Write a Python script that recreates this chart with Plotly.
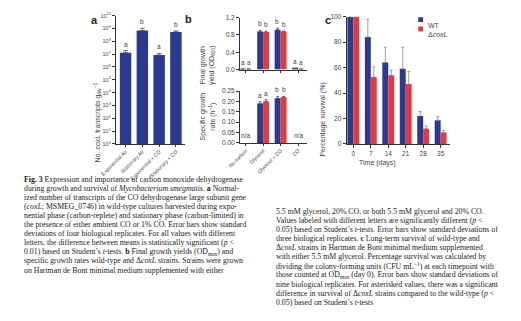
import plotly.graph_objects as go
import math

W, H = 521, 321
BLUE = "#2b3a8c"
RED = "#e03a42"
ERRC = "#555555"
SANS = "Liberation Sans, Arial, sans-serif"
SERIF = "Liberation Serif, Times New Roman, serif"

# ---------------- data ----------------
a_categories = ["Exponential Air", "Stationary Air", "Exponential + CO", "Stationary + CO"]
a_values = [1.3e7, 7.0e8, 8.5e6, 5.5e8]
a_errors = [0.6e7, 3.5e8, 3.0e6, 1.0e8]
a_letters = ["a", "b", "a", "b"]
a_ticks_exp = list(range(0, 11))

b_categories = ["No carbon", "Glycerol", "Glycerol + CO", "CO"]
b_yield_wt = [0.01, 0.88, 0.92, 0.02]
b_yield_wt_err = [0.004, 0.03, 0.04, 0.01]
b_yield_ko = [0.01, 0.87, 0.88, 0.01]
b_yield_ko_err = [0.004, 0.02, 0.01, 0.004]
b_yield_letters = ["a", "b", "b", "a"]
b_rate_wt = [None, 0.19, 0.215, None]
b_rate_wt_err = [0, 0.008, 0.009, 0]
b_rate_ko = [None, 0.20, 0.22, None]
b_rate_ko_err = [0, 0.008, 0.004, 0]
b_rate_letters = ["n/a", "a", "b", "n/a"]

c_days = ["0", "7", "14", "21", "28", "35"]
c_wt = [100, 84, 64, 59, 22, 18.5]
c_wt_err = [0, 14, 12, 17, 3.5, 3]
c_ko = [100, 52.5, 54, 47, 12, 9]
c_ko_err = [0, 8, 4, 10, 2, 1.5]
c_sig = ["", "*", "", "", "*", "*"]

caption_left = [
    "<b>Fig. 3</b> Expression and importance of carbon monoxide dehydrogenase",
    "during growth and survival of <i>Mycobacterium smegmatis</i>. <b>a</b> Normal-",
    "ized number of transcripts of the CO dehydrogenase large subunit gene",
    "(<i>coxL</i>; MSMEG_0746) in wild-type cultures harvested during expo-",
    "nential phase (carbon-replete) and stationary phase (carbon-limited) in",
    "the presence of either ambient CO or 1% CO. Error bars show standard",
    "deviations of four biological replicates. For all values with different",
    "letters, the difference between means is statistically significant (<i>p</i> &lt;",
    "0.01) based on Student’s <i>t</i>-tests. <b>b</b> Final growth yields (OD<sub>max</sub>) and",
    "specific growth rates wild-type and Δ<i>coxL</i> strains. Strains were grown",
    "on Hartman de Bont minimal medium supplemented with either",
]
caption_right = [
    "5.5 mM glycerol, 20% CO, or both 5.5 mM glycerol and 20% CO.",
    "Values labeled with different letters are significantly different (<i>p</i> &lt;",
    "0.05) based on Student’s <i>t</i>-tests. Error bars show standard deviations of",
    "three biological replicates. <b>c</b> Long-term survival of wild-type and",
    "Δ<i>coxL</i> strains in Hartman de Bont minimal medium supplemented",
    "with either 5.5 mM glycerol. Percentage survival was calculated by",
    "dividing the colony-forming units (CFU mL<sup>−1</sup>) at each timepoint with",
    "those counted at OD<sub>max</sub> (day 0). Error bars show standard deviations of",
    "nine biological replicates. For asterisked values, there was a significant",
    "difference in survival of Δ<i>coxL</i> strains compared to the wild-type (<i>p</i> &lt;",
    "0.05) based on Student’s <i>t</i>-tests",
]


def xd(a, b):
    return [a / W, b / W]


def yd(top, bottom):
    return [1 - bottom / H, 1 - top / H]


def px(x):
    return x / W


def py(y):
    return 1 - y / H


def err(arr, width=0.8, color=ERRC, thick=2.5):
    return dict(type="data", array=arr, arrayminus=[0] * len(arr), symmetric=False,
                color=color, thickness=width, width=thick, visible=True)


fig = go.Figure()

# Panel a
fig.add_trace(go.Bar(x=a_categories, y=a_values, marker=dict(color=BLUE, line=dict(width=0)),
                     error_y=err(a_errors), xaxis="x", yaxis="y", showlegend=False))
# Panel b top
fig.add_trace(go.Bar(x=b_categories, y=b_yield_wt, marker=dict(color=BLUE, line=dict(width=0)),
                     error_y=err(b_yield_wt_err, thick=1.5), xaxis="x2", yaxis="y2", showlegend=False))
fig.add_trace(go.Bar(x=b_categories, y=b_yield_ko, marker=dict(color=RED, line=dict(width=0)),
                     error_y=err(b_yield_ko_err, thick=1.5), xaxis="x2", yaxis="y2", showlegend=False))
# Panel b bottom
fig.add_trace(go.Bar(x=b_categories, y=b_rate_wt, marker=dict(color=BLUE, line=dict(width=0)),
                     error_y=err(b_rate_wt_err, thick=1.5), xaxis="x3", yaxis="y3", showlegend=False))
fig.add_trace(go.Bar(x=b_categories, y=b_rate_ko, marker=dict(color=RED, line=dict(width=0)),
                     error_y=err(b_rate_ko_err, thick=1.5), xaxis="x3", yaxis="y3", showlegend=False))
# Panel c
fig.add_trace(go.Bar(x=c_days, y=c_wt, name="WT", marker=dict(color=BLUE, line=dict(width=0)),
                     error_y=err(c_wt_err, color="#8a8a8a", thick=1.5), xaxis="x4", yaxis="y4"))
fig.add_trace(go.Bar(x=c_days, y=c_ko, name="ΔcoxL", marker=dict(color=RED, line=dict(width=0)),
                     error_y=err(c_ko_err, color="#8a8a8a", thick=1.5), xaxis="x4", yaxis="y4"))

axis_common = dict(showline=True, linecolor="#333", linewidth=0.8, ticks="outside", ticklen=3,
                   tickwidth=0.8, tickcolor="#333", showgrid=False, zeroline=False,
                   tickfont=dict(family=SANS, size=6.5, color="#444"))
rot_font = dict(family=SANS, size=5.1, color="#444")

fig.update_layout(
    width=W, height=H, margin=dict(l=0, r=0, t=0, b=0),
    paper_bgcolor="white", plot_bgcolor="white", showlegend=False,
    barmode="group", bargap=0.32, bargroupgap=0,
    font=dict(family=SANS, color="#333"),
    xaxis=dict(axis_common, domain=xd(103, 174), anchor="y", type="category",
               range=[-0.58, 3.52], tickangle=-45, tickfont=rot_font, ticklen=2),
    yaxis=dict(axis_common, domain=yd(12, 143), anchor="x", type="log", range=[0, 10],
               tickvals=[10 ** e for e in a_ticks_exp],
               ticktext=["10<sup>%d</sup>" % e for e in a_ticks_exp],
               tickfont=dict(family=SANS, size=5.5, color="#444")),
    xaxis2=dict(axis_common, domain=xd(231, 300), anchor="y2", type="category",
                range=[-0.33, 3.5], showticklabels=False),
    yaxis2=dict(axis_common, domain=yd(14, 67), anchor="x2", range=[0, 1.2],
                tickvals=[0, 0.4, 0.8, 1.2], ticktext=["0.0", "0.4", "0.8", "1.2"]),
    xaxis3=dict(axis_common, domain=xd(231, 300), anchor="y3", type="category",
                range=[-0.33, 3.5], tickangle=-45, tickfont=rot_font, ticklen=2),
    yaxis3=dict(axis_common, domain=yd(89, 142), anchor="x3", range=[0, 0.25],
                dtick=0.05, tickformat=".2f"),
    xaxis4=dict(axis_common, domain=xd(341, 448), anchor="y4", type="category",
                range=[-0.39, 5.55]),
    yaxis4=dict(axis_common, domain=yd(13, 143), anchor="x4", range=[0, 100], dtick=20),
)

ann = []
lf = dict(family=SANS, size=6.5, color="#444")
# panel letters
for t, x, y in [("a", 75, 8), ("b", 178, 7), ("c", 322, 8)]:
    ann.append(dict(text="<b>%s</b>" % t, x=px(x), y=py(y), xref="paper", yref="paper",
                    showarrow=False, font=dict(family=SANS, size=11, color="#222")))
# y titles
for t, x, y in [("No. <i>coxL</i> transcripts g<sub>dw</sub><sup>−1</sup>", 77, 78),
                ("Final growth<br>yield (OD<sub>600</sub>)", 198, 40),
                ("Specific growth<br>rate (h<sup>−1</sup>)", 198, 115),
                ("Percentage survival (%)", 317, 78)]:
    ann.append(dict(text=t, x=px(x), y=py(y), xref="paper", yref="paper", showarrow=False,
                    textangle=-90, font=dict(family=SANS, size=7, color="#444")))
ann.append(dict(text="Time (days)", x=px(394), y=py(163), xref="paper", yref="paper",
                showarrow=False, font=dict(family=SANS, size=7, color="#444")))

# letters panel a
for c, v, e, l in zip(a_categories, a_values, a_errors, a_letters):
    ann.append(dict(text=l, x=c, y=math.log10(v + e), xref="x", yref="y", yanchor="bottom",
                    yshift=1, showarrow=False, font=lf))
# letters panel b
for c, v1, e1, v2, e2, l in zip(b_categories, b_yield_wt, b_yield_wt_err, b_yield_ko,
                                b_yield_ko_err, b_yield_letters):
    for v, e, s in [(v1, e1, -3.1), (v2, e2, 3.1)]:
        ann.append(dict(text=l, x=c, y=v + e, xref="x2", yref="y2", yanchor="bottom",
                        xshift=s, yshift=1, showarrow=False, font=lf))
for c, v1, e1, v2, e2, l in zip(b_categories, b_rate_wt, b_rate_wt_err, b_rate_ko,
                                b_rate_ko_err, b_rate_letters):
    if v1 is None:
        ann.append(dict(text=l, x=c, y=0, xref="x3", yref="y3", yanchor="bottom",
                        yshift=2, showarrow=False, font=lf))
    else:
        for v, e, s in [(v1, e1, -3.1), (v2, e2, 3.1)]:
            ann.append(dict(text=l, x=c, y=v + e, xref="x3", yref="y3", yanchor="bottom",
                            xshift=s, yshift=1, showarrow=False, font=lf))
# asterisks panel c
for d, v, e, s in zip(c_days, c_ko, c_ko_err, c_sig):
    if s:
        ann.append(dict(text=s, x=d, y=v + e, xref="x4", yref="y4", yanchor="bottom",
                        xshift=3.1, yshift=0, showarrow=False, font=lf))

# legend for panel c
shapes = []
for i, (name, col) in enumerate([("WT", BLUE), ("Δ<i>coxL</i>", RED)]):
    yc = 16 + 9.5 * i
    shapes.append(dict(type="rect", xref="paper", yref="paper", x0=px(415), x1=px(420),
                       y0=py(yc + 2.5), y1=py(yc - 2.5), fillcolor=col, line=dict(width=0)))
    ann.append(dict(text=name, x=px(422.5), y=py(yc), xref="paper", yref="paper",
                    xanchor="left", showarrow=False, font=dict(family=SANS, size=7, color="#444")))

# caption
cf = dict(family=SERIF, size=7.8, color="#1a1a1a")
for i, line in enumerate(caption_left):
    ann.append(dict(text=line, x=px(6), y=py(179 + 9.3 * i), xref="paper", yref="paper",
                    xanchor="left", yanchor="middle", showarrow=False, font=cf))
for i, line in enumerate(caption_right):
    ann.append(dict(text=line, x=px(266), y=py(212 + 9.3 * i), xref="paper", yref="paper",
                    xanchor="left", yanchor="middle", showarrow=False, font=cf))

fig.update_layout(annotations=ann, shapes=shapes)
fig.write_html("out.html")
